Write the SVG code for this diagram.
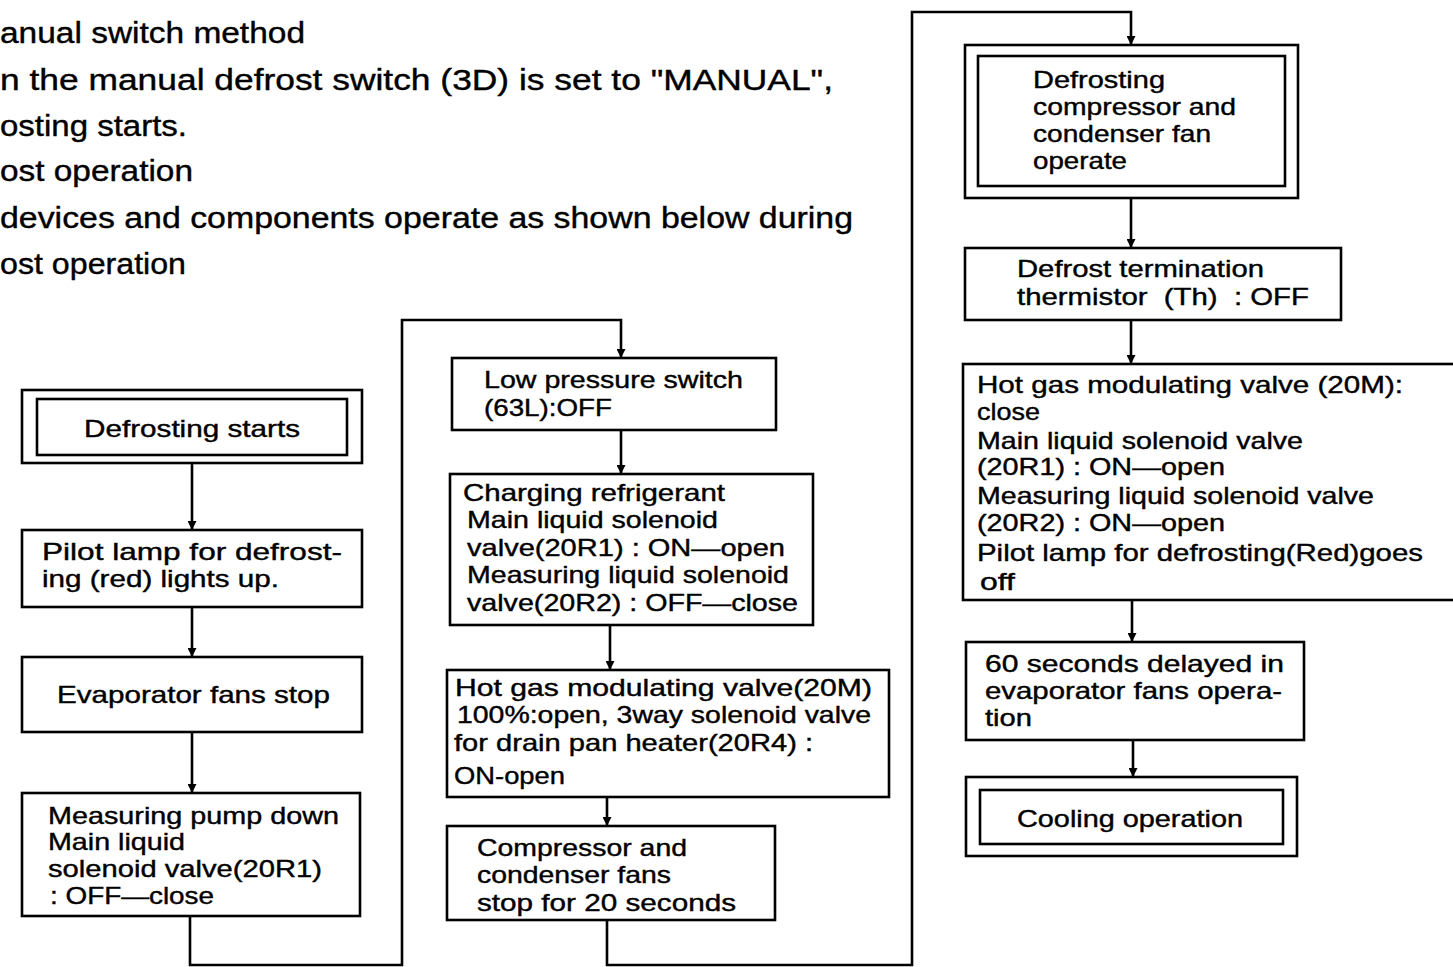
<svg xmlns="http://www.w3.org/2000/svg" width="1453" height="967" viewBox="0 0 1453 967">
<style>
  text { font-family: "Liberation Sans", Arial, sans-serif; fill: #000; stroke: #000; stroke-width: 0.4; }
  .hd { font-size: 30px; }
  .bx { font-size: 24px; }
  .box { fill: #fff; stroke: #000; stroke-width: 2.6; }
  .con { fill: none; stroke: #000; stroke-width: 2.6; }
</style>
<defs>
  <marker id="arr" viewBox="0 0 10 10" refX="10" refY="5" markerWidth="9" markerHeight="9" markerUnits="userSpaceOnUse" orient="auto">
    <path d="M0,0 L10,5 L0,10 z" fill="#000"/>
  </marker>
</defs>
<rect x="0" y="0" width="1453" height="967" fill="#fff"/>

<g id="header">
  <text class="hd" x="0" y="43" textLength="305" lengthAdjust="spacingAndGlyphs">anual switch method</text>
  <text class="hd" x="0" y="90" textLength="833" lengthAdjust="spacingAndGlyphs">n the manual defrost switch (3D) is set to "MANUAL",</text>
  <text class="hd" x="0" y="136" textLength="187" lengthAdjust="spacingAndGlyphs">osting starts.</text>
  <text class="hd" x="0" y="181" textLength="193" lengthAdjust="spacingAndGlyphs">ost operation</text>
  <text class="hd" x="0" y="228" textLength="853" lengthAdjust="spacingAndGlyphs">devices and components operate as shown below during</text>
  <text class="hd" x="0" y="274" textLength="186" lengthAdjust="spacingAndGlyphs">ost operation</text>
</g>

<g id="connectors">
  <path class="con" d="M192,463 V530" marker-end="url(#arr)"/>
  <path class="con" d="M192,607 V657" marker-end="url(#arr)"/>
  <path class="con" d="M192,732 V793" marker-end="url(#arr)"/>
  <path class="con" d="M190,916 V965 H402 V320 H621 V358" marker-end="url(#arr)"/>
  <path class="con" d="M621,430 V474" marker-end="url(#arr)"/>
  <path class="con" d="M610,625 V670" marker-end="url(#arr)"/>
  <path class="con" d="M607,797 V826" marker-end="url(#arr)"/>
  <path class="con" d="M607,920 V965 H912 V12 H1131 V45" marker-end="url(#arr)"/>
  <path class="con" d="M1131,198 V248" marker-end="url(#arr)"/>
  <path class="con" d="M1131,320 V364" marker-end="url(#arr)"/>
  <path class="con" d="M1132,600 V642" marker-end="url(#arr)"/>
  <path class="con" d="M1133,740 V777" marker-end="url(#arr)"/>
</g>

<g id="n-defrosting-starts">
  <rect class="box" x="22" y="390" width="340" height="73"/>
  <rect class="box" x="37" y="399" width="310" height="56"/>
  <text class="bx" x="84" y="437" textLength="216" lengthAdjust="spacingAndGlyphs">Defrosting starts</text>
</g>

<g id="n-pilot-lamp">
  <rect class="box" x="22" y="530" width="340" height="77"/>
  <text class="bx" x="42" y="560" textLength="300" lengthAdjust="spacingAndGlyphs">Pilot lamp for defrost-</text>
  <text class="bx" x="42" y="587" textLength="237" lengthAdjust="spacingAndGlyphs">ing (red) lights up.</text>
</g>

<g id="n-evap-fans-stop">
  <rect class="box" x="22" y="657" width="340" height="75"/>
  <text class="bx" x="57" y="703" textLength="273" lengthAdjust="spacingAndGlyphs">Evaporator fans stop</text>
</g>

<g id="n-pump-down">
  <rect class="box" x="22" y="793" width="338" height="123"/>
  <text class="bx" x="48" y="824" textLength="291" lengthAdjust="spacingAndGlyphs">Measuring pump down</text>
  <text class="bx" x="48" y="850" textLength="137" lengthAdjust="spacingAndGlyphs">Main liquid</text>
  <text class="bx" x="48" y="877" textLength="274" lengthAdjust="spacingAndGlyphs">solenoid valve(20R1)</text>
  <text class="bx" x="50" y="904" textLength="164" lengthAdjust="spacingAndGlyphs">: OFF—close</text>
</g>

<g id="n-low-pressure">
  <rect class="box" x="452" y="358" width="324" height="72"/>
  <text class="bx" x="484" y="388" textLength="259" lengthAdjust="spacingAndGlyphs">Low pressure switch</text>
  <text class="bx" x="484" y="416" textLength="128" lengthAdjust="spacingAndGlyphs">(63L):OFF</text>
</g>

<g id="n-charging">
  <rect class="box" x="450" y="474" width="363" height="151"/>
  <text class="bx" x="463" y="501" textLength="262" lengthAdjust="spacingAndGlyphs">Charging refrigerant</text>
  <text class="bx" x="467" y="528" textLength="251" lengthAdjust="spacingAndGlyphs">Main liquid solenoid</text>
  <text class="bx" x="467" y="556" textLength="318" lengthAdjust="spacingAndGlyphs">valve(20R1) : ON—open</text>
  <text class="bx" x="467" y="583" textLength="322" lengthAdjust="spacingAndGlyphs">Measuring liquid solenoid</text>
  <text class="bx" x="467" y="611" textLength="331" lengthAdjust="spacingAndGlyphs">valve(20R2) : OFF—close</text>
</g>

<g id="n-hot-gas-open">
  <rect class="box" x="447" y="670" width="442" height="127"/>
  <text class="bx" x="455" y="696" textLength="417" lengthAdjust="spacingAndGlyphs">Hot gas modulating valve(20M)</text>
  <text class="bx" x="457" y="723" textLength="414" lengthAdjust="spacingAndGlyphs">100%:open, 3way solenoid valve</text>
  <text class="bx" x="454" y="751" textLength="359" lengthAdjust="spacingAndGlyphs">for drain pan heater(20R4) :</text>
  <text class="bx" x="454" y="784" textLength="111" lengthAdjust="spacingAndGlyphs">ON-open</text>
</g>

<g id="n-compressor-stop">
  <rect class="box" x="447" y="826" width="328" height="94"/>
  <text class="bx" x="477" y="856" textLength="210" lengthAdjust="spacingAndGlyphs">Compressor and</text>
  <text class="bx" x="477" y="883" textLength="194" lengthAdjust="spacingAndGlyphs">condenser fans</text>
  <text class="bx" x="477" y="911" textLength="259" lengthAdjust="spacingAndGlyphs">stop for 20 seconds</text>
</g>

<g id="n-defrost-compressor">
  <rect class="box" x="965" y="45" width="333" height="153"/>
  <rect class="box" x="978" y="56" width="307" height="130"/>
  <text class="bx" x="1033" y="88" textLength="132" lengthAdjust="spacingAndGlyphs">Defrosting</text>
  <text class="bx" x="1033" y="115" textLength="203" lengthAdjust="spacingAndGlyphs">compressor and</text>
  <text class="bx" x="1033" y="142" textLength="178" lengthAdjust="spacingAndGlyphs">condenser fan</text>
  <text class="bx" x="1033" y="169" textLength="94" lengthAdjust="spacingAndGlyphs">operate</text>
</g>

<g id="n-termination">
  <rect class="box" x="965" y="248" width="376" height="72"/>
  <text class="bx" x="1017" y="277" textLength="247" lengthAdjust="spacingAndGlyphs">Defrost termination</text>
  <text class="bx" x="1017" y="305" textLength="292" lengthAdjust="spacingAndGlyphs" xml:space="preserve">thermistor  (Th)  : OFF</text>
</g>

<g id="n-hot-gas-close">
  <rect class="box" x="963" y="364" width="500" height="236"/>
  <text class="bx" x="977" y="393" textLength="426" lengthAdjust="spacingAndGlyphs">Hot gas modulating valve (20M):</text>
  <text class="bx" x="977" y="420" textLength="63" lengthAdjust="spacingAndGlyphs">close</text>
  <text class="bx" x="977" y="449" textLength="326" lengthAdjust="spacingAndGlyphs">Main liquid solenoid valve</text>
  <text class="bx" x="977" y="475" textLength="248" lengthAdjust="spacingAndGlyphs">(20R1) : ON—open</text>
  <text class="bx" x="977" y="504" textLength="397" lengthAdjust="spacingAndGlyphs">Measuring liquid solenoid valve</text>
  <text class="bx" x="977" y="531" textLength="248" lengthAdjust="spacingAndGlyphs">(20R2) : ON—open</text>
  <text class="bx" x="977" y="561" textLength="446" lengthAdjust="spacingAndGlyphs">Pilot lamp for defrosting(Red)goes</text>
  <text class="bx" x="980" y="590" textLength="35" lengthAdjust="spacingAndGlyphs">off</text>
</g>

<g id="n-delay">
  <rect class="box" x="966" y="642" width="338" height="98"/>
  <text class="bx" x="985" y="672" textLength="299" lengthAdjust="spacingAndGlyphs">60 seconds delayed in</text>
  <text class="bx" x="985" y="699" textLength="297" lengthAdjust="spacingAndGlyphs">evaporator fans opera-</text>
  <text class="bx" x="985" y="726" textLength="47" lengthAdjust="spacingAndGlyphs">tion</text>
</g>

<g id="n-cooling">
  <rect class="box" x="966" y="777" width="331" height="79"/>
  <rect class="box" x="980" y="790" width="303" height="54"/>
  <text class="bx" x="1017" y="827" textLength="226" lengthAdjust="spacingAndGlyphs">Cooling operation</text>
</g>
</svg>
